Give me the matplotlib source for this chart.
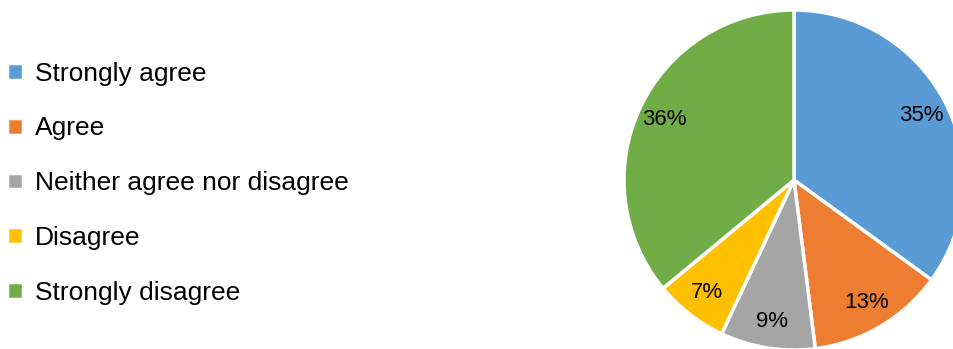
import matplotlib
matplotlib.use("Agg")
import matplotlib.pyplot as plt

# survey responses
labels = ["Strongly agree", "Agree", "Neither agree nor disagree",
          "Disagree", "Strongly disagree"]
shares = [35, 13, 9, 7, 36]
colors = ["#5B9BD5", "#ED7D31", "#A5A5A5", "#FFC000", "#70AD47"]

plt.rcParams['font.family'] = ['Liberation Sans', 'DejaVu Sans']

fig = plt.figure(figsize=(9.54, 3.49), dpi=100)

# pie axes: centre ~ (794, 180) px, radius ~ 170 px
W, H = 954.0, 349.0
r = 170.0
ax = fig.add_axes([(794 - r) / W, (H - 180 - r) / H, 2 * r / W, 2 * r / H])
wedges, texts, autotexts = ax.pie(
    shares, colors=colors, startangle=90, counterclock=False,
    autopct='%d%%', pctdistance=0.84,
    wedgeprops=dict(edgecolor='white', linewidth=2.5),
    textprops=dict(fontsize=16, color='black'))
ax.set_xlim(-1, 1)
ax.set_ylim(-1, 1)
ax.set_aspect('equal')
for w in wedges:
    w.set_clip_on(False)

fig.legend(wedges, labels, loc='upper left', bbox_to_anchor=(-0.012, 0.876),
           frameon=False, fontsize=19, handlelength=0.6, handleheight=0.6,
           handletextpad=0.45, labelspacing=1.165, borderaxespad=0.3)

fig.savefig("out.png", dpi=100)
